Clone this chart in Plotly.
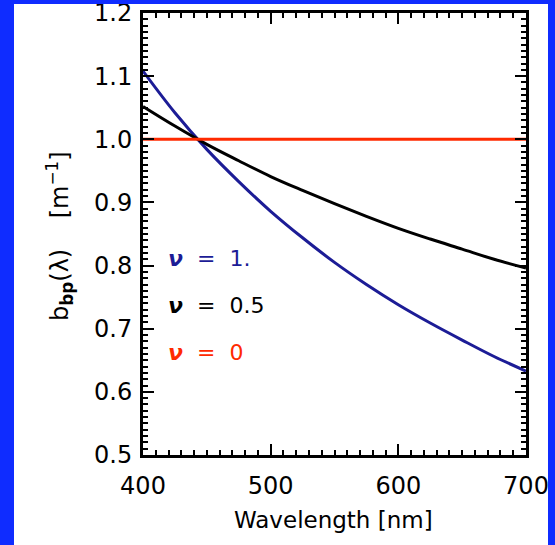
import plotly.graph_objects as go

wavelength = [400, 425, 450, 475, 500, 525, 550, 575, 600, 625, 650, 675, 700]
bbp_nu1 = [1.108, 1.042, 0.984, 0.933, 0.886, 0.844, 0.805, 0.770, 0.738, 0.709, 0.682, 0.656, 0.633]
bbp_nu05 = [1.052, 1.021, 0.992, 0.966, 0.941, 0.919, 0.898, 0.878, 0.859, 0.842, 0.826, 0.810, 0.796]
bbp_nu0 = [1.0] * len(wavelength)

nu_values = ["1.", "0.5", "0"]
colors = ["#1c1c96", "#000000", "#ff2a00"]

W, H = 555, 545
L, R, T, B = 143, 29, 13, 90
pw, ph = W - L - R, H - T - B

fig = go.Figure()
for ys, c in zip([bbp_nu1, bbp_nu05, bbp_nu0], colors):
    fig.add_trace(go.Scatter(x=wavelength, y=ys, mode="lines", line=dict(color=c, width=3, shape="spline"),
                             showlegend=False, hoverinfo="skip"))

font = "DejaVu Sans, sans-serif"
axis_common = dict(ticks="inside", showline=True, linecolor="black", linewidth=3, mirror="ticks",
                   tickcolor="black", tickwidth=2, ticklen=11, showgrid=False, zeroline=False,
                   ticklabeloverflow="allow",
                   tickfont=dict(family=font, size=24, color="black"))

fig.update_xaxes(range=[400, 700], tickvals=[400, 500, 600, 700], ticktext=["400", "500", "600", "700"],
                 minor=dict(dtick=10, ticks="inside", ticklen=5, tickwidth=2, tickcolor="black"),
                 ticklabelstandoff=7, **axis_common)
fig.update_yaxes(range=[0.5, 1.2], tickvals=[0.5, 0.6, 0.7, 0.8, 0.9, 1.0, 1.1, 1.2],
                 ticktext=["0.5", "0.6", "0.7", "0.8", "0.9", "1.0", "1.1", "1.2"],
                 minor=dict(dtick=0.01, ticks="inside", ticklen=5, tickwidth=2, tickcolor="black"),
                 ticklabelstandoff=3, **axis_common)

def px_x(x):
    return (x - L) / pw

def px_y(y):
    return (H - B - y) / ph

annotations = [
    dict(text="Wavelength [nm]", x=px_x(333), y=px_y(520), xref="paper", yref="paper",
         xanchor="center", yanchor="middle",
         showarrow=False, font=dict(family=font, size=23, color="black")),
    dict(text="b<sub><b>bp</b></sub>(\u03bb)\u00a0\u00a0\u00a0\u00a0[m<sup>\u22121</sup>]", x=px_x(59), y=px_y(236),
         xref="paper", yref="paper", textangle=-90, showarrow=False, xanchor="center", yanchor="middle",
         font=dict(family=font, size=24, color="black")),
]
for nv, c, yy in zip(nu_values, colors, [258, 305, 353]):
    annotations.append(dict(text="<b><i>\u03bd</i></b>\u00a0\u00a0=\u00a0\u00a0" + nv, x=px_x(166), y=px_y(yy),
                            xref="paper", yref="paper", xanchor="left", yanchor="middle", showarrow=False,
                            font=dict(family=font, size=22, color=c)))

blue = "#0f2cff"
shapes = [
    dict(type="rect", xref="paper", yref="paper", x0=px_x(0), x1=px_x(14), y0=px_y(H), y1=px_y(0),
         fillcolor=blue, line=dict(width=0), layer="above"),
    dict(type="rect", xref="paper", yref="paper", x0=px_x(0), x1=px_x(W), y0=px_y(4), y1=px_y(0),
         fillcolor=blue, line=dict(width=0), layer="above"),
    dict(type="rect", xref="paper", yref="paper", x0=px_x(548), x1=px_x(W), y0=px_y(H), y1=px_y(0),
         fillcolor=blue, line=dict(width=0), layer="above"),
]

fig.update_layout(width=W, height=H, margin=dict(l=L, r=R, t=T, b=B, autoexpand=False),
                  paper_bgcolor="white", plot_bgcolor="white", annotations=annotations, shapes=shapes,
                  hovermode=False)

fig.write_html("out.html", config={"displayModeBar": False},
               post_script="document.body.style.margin='0px';document.body.style.overflow='hidden';")
